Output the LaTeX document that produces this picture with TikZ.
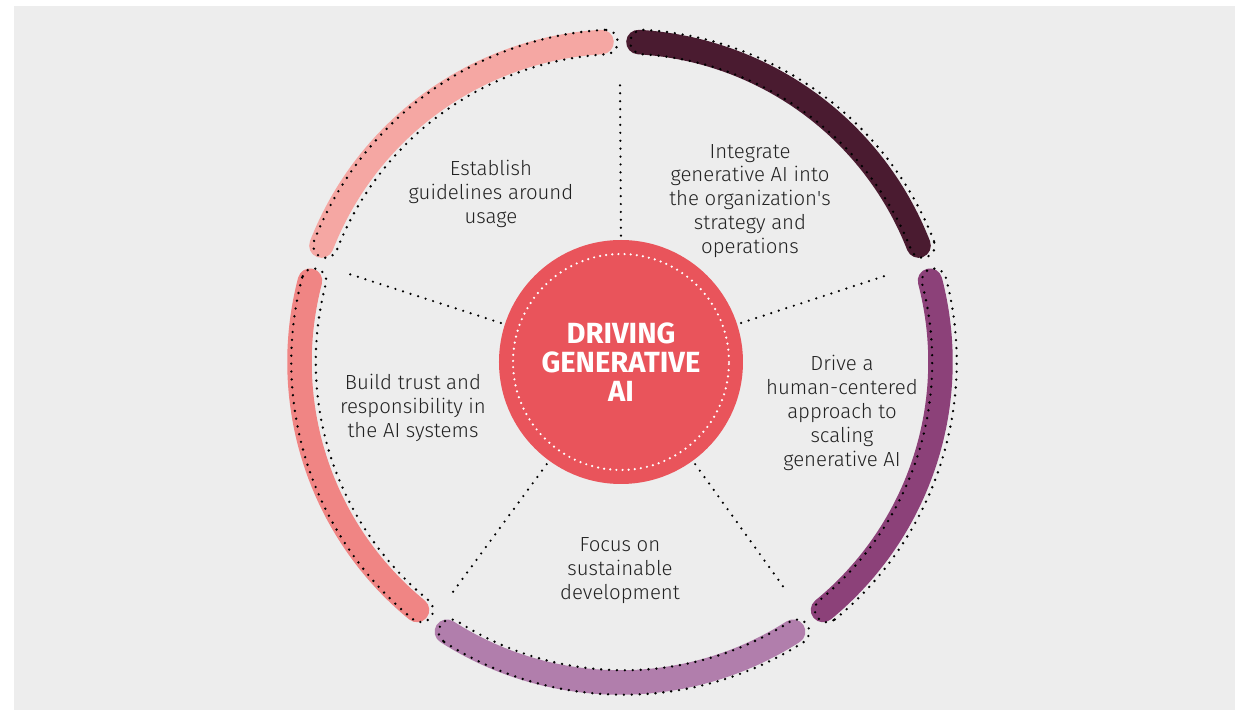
\documentclass[tikz,border=0pt]{standalone}
\usepackage{fontspec}
\setmainfont{Fira Sans Light}
\newfontfamily\hubfont{Fira Sans}
\usetikzlibrary{positioning}
\definecolor{dgback}{HTML}{EDEDED}
\definecolor{dgtext}{HTML}{222222}
\definecolor{dghub}{HTML}{E9545B}
\definecolor{dgdark}{HTML}{4A1B30}
\definecolor{dgplum}{HTML}{8C4179}
\definecolor{dglilac}{HTML}{B17EAC}
\definecolor{dgcoral}{HTML}{F08584}
\definecolor{dgrose}{HTML}{F5A7A3}

\begin{document}
\begin{tikzpicture}[
    band/.style={line width=0.49cm, line cap=round},
    bandline/.style={black, line width=1.5pt, line cap=round, dash pattern=on 0pt off 4.5pt},
    spoke/.style={black, line width=1.4pt, line cap=round, dash pattern=on 0pt off 4.5pt, shorten <=0.08cm},
    hubdots/.style={white, line width=1.4pt, line cap=round, dash pattern=on 0pt off 3.5pt},
    label/.style={align=center, text=dgtext, inner sep=0pt, font=\fontsize{11.6}{13.6}\selectfont}
  ]
    \def\R{6.41}
    \def\W{0.245}
    \def\H{32.7}
    % page and grey panel
    \useasboundingbox (-12.4,-6.96) rectangle (12.5,7.24);
    \fill[dgback] (-12.12,-6.96) rectangle (12.3,7.12);

    % the five coloured bands with their dotted outlines
    \foreach \c/\col in {54/dgdark, -18/dgplum, -90/dglilac, -162/dgcoral, 126/dgrose} {
      \draw[band, \col] ({\c-\H}:\R) arc[start angle=\c-\H, end angle=\c+\H, radius=\R];
      \draw[bandline, xshift=0.08cm] ({\c-\H}:{\R+\W})
        arc[start angle=\c-\H, end angle=\c+\H, radius=\R+\W]
        arc[start angle=\c+\H, end angle=\c+\H+180, radius=\W]
        arc[start angle=\c+\H, end angle=\c-\H, radius=\R-\W]
        arc[start angle=\c-\H+180, end angle=\c-\H+360, radius=\W] -- cycle;
    }

    \node[circle, fill=dghub, minimum size=4.88cm, inner sep=0pt, align=center,
      text=white, font=\hubfont\bfseries\fontsize{16.6}{16.6}\selectfont] (hub) at (0.02,0)
      {DRIVING\\GENERATIVE\\AI};
    \draw[hubdots] (hub.center) circle[radius=2.16cm];

    \foreach \a [count=\i] in {90,18,-54,-126,162} {
      \coordinate (rim\i) at (\a:5.68);
      \draw[spoke] (hub.\a) -- (rim\i);
    }

    \node[label] (usage) at (-2.58,3.36) {Establish\\guidelines around\\usage};
    \node[label] (strategy) at (2.60,3.22) {Integrate\\generative AI into\\the organization\textquotesingle s\\strategy and\\operations};
    \node[label] (human) at (4.44,-1.02) {Drive a\\human-centered\\approach to\\scaling\\generative AI};
    \node[label] (sustain) at (0,-4.18) {Focus on\\sustainable\\development};
    \node[label] (trust) at (-4.14,-0.92) {Build trust and\\responsibility in\\the AI systems};
  \end{tikzpicture}
\end{document}
